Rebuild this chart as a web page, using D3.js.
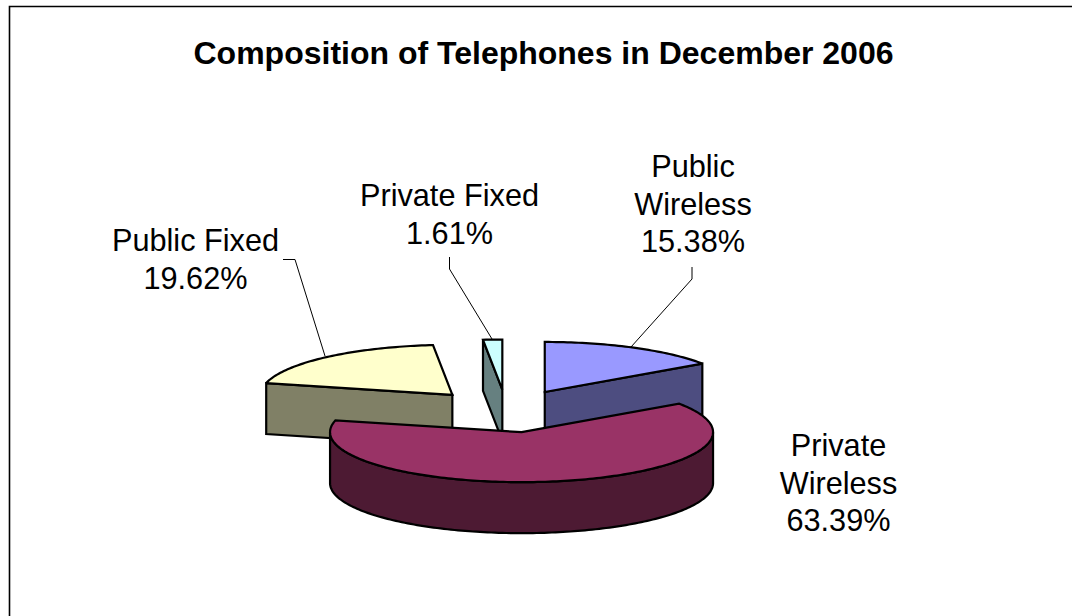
<!DOCTYPE html>
<html>
<head>
<meta charset="utf-8">
<script src="https://cdn.jsdelivr.net/npm/d3@7"></script>
<style>
  html, body { margin: 0; padding: 0; background: #fff; }
  svg { display: block; }
  text { font-family: "Liberation Sans", Arial, sans-serif; fill: #000; }
</style>
</head>
<body>
<svg id="chart" width="1072" height="616"></svg>
<script>
// Share of telephone connections, December 2006
const categories = ["Public Wireless", "Private Wireless", "Public Fixed", "Private Fixed"];
const shares = [15.38, 63.39, 19.62, 1.61];
const topColors = ["#9999FF", "#993366", "#FFFFCC", "#CCFFFF"];
const wallColors = ["#4D4D80", "#4D1A33", "#808066", "#668080"];
const labelLines = [
  ["Public", "Wireless", "15.38%"],
  ["Private", "Wireless", "63.39%"],
  ["Public Fixed", "19.62%"],
  ["Private Fixed", "1.61%"]
];
const labelAnchors = [[693, 177], [838.5, 456], [195.5, 251], [449.5, 206]];
const leaders = [
  [[692, 267], [692, 279], [631, 347]],
  null,
  [[283, 259.5], [295, 259.5], [325, 356]],
  [[449.5, 257], [449.5, 269], [492, 339]]
];
const drawOrder = [3, 0, 2, 1];

const svg = d3.select("#chart");

// Tilted pie projection: ground-plane units map to the screen through two scales
const cx = 506.5, cy = 411, radiusX = 191.5, radiusY = 50, depth = 51, explode = 0.43;
const sx = d3.scaleLinear().domain([-1, 1]).range([cx - radiusX, cx + radiusX]);
const sy = d3.scaleLinear().domain([-1, 1]).range([cy - radiusY, cy + radiusY]);

const slices = d3.pie().sort(null).value(d => d)(shares);
const line = d3.line();
const ring = (a, u = 1) => [Math.sin(a) * u, -Math.cos(a) * u];
const sweep = (a0, a1) => {
  const n = Math.max(2, Math.ceil(Math.abs(a1 - a0) / 0.02));
  return d3.range(n + 1).map(i => a0 + (a1 - a0) * i / n);
};

// Page frame: only the top and left edges fall inside the page
svg.append("path")
  .attr("d", "M9.5,616V6.5H1072")
  .attr("fill", "none")
  .attr("stroke", "#000")
  .attr("stroke-width", 1.6);

svg.append("text")
  .attr("x", 543.5)
  .attr("y", 64)
  .attr("text-anchor", "middle")
  .attr("font-size", 32)
  .attr("font-weight", 700)
  .text("Composition of Telephones in December 2006");

const pieGroup = svg.append("g")
  .attr("stroke", "#000")
  .attr("stroke-width", 2.2)
  .attr("stroke-linejoin", "miter")
  .attr("stroke-miterlimit", 2);

drawOrder.forEach(i => {
  const s = slices[i];
  const mid = (s.startAngle + s.endAngle) / 2;
  const [ox, oy] = ring(mid, explode);
  const top = ([u, v]) => [sx(u + ox), sy(v + oy)];
  const low = p => { const q = top(p); return [q[0], q[1] + depth]; };
  const apex = [0, 0];

  // Cut faces that turn toward the viewer
  [[s.startAngle, Math.sin(s.startAngle) < -1e-6], [s.endAngle, Math.sin(s.endAngle) > 1e-6]]
    .filter(d => d[1])
    .forEach(([a]) => {
      const rim = ring(a);
      pieGroup.append("path")
        .attr("d", line([top(apex), top(rim), low(rim), low(apex)]) + "Z")
        .attr("fill", wallColors[i]);
    });

  // Outer wall on the front half of the rim
  const a0 = Math.max(s.startAngle, Math.PI / 2);
  const a1 = Math.min(s.endAngle, Math.PI * 1.5);
  if (a1 > a0) {
    const rimPts = sweep(a0, a1).map(a => ring(a));
    pieGroup.append("path")
      .attr("d", line([...rimPts.map(top), ...rimPts.reverse().map(low)]) + "Z")
      .attr("fill", wallColors[i]);
  }

  // Top face
  const topPts = sweep(s.startAngle, s.endAngle).map(a => top(ring(a)));
  pieGroup.append("path")
    .attr("d", line([top(apex), ...topPts]) + "Z")
    .attr("fill", topColors[i]);
});

// Leader lines
svg.append("g")
  .selectAll("path")
  .data(leaders.filter(Boolean))
  .join("path")
  .attr("d", d => line(d))
  .attr("fill", "none")
  .attr("stroke", "#000")
  .attr("stroke-width", 1);

// Slice labels
const labels = svg.append("g")
  .attr("font-size", 30.7)
  .attr("text-anchor", "middle")
  .selectAll("text")
  .data(categories)
  .join("text")
  .attr("data-category", d => d);

labels.each(function (d, i) {
  d3.select(this).selectAll("tspan")
    .data(labelLines[i])
    .join("tspan")
    .attr("x", labelAnchors[i][0])
    .attr("y", (t, k) => labelAnchors[i][1] + k * 37.5)
    .text(t => t);
});
</script>
</body>
</html>
